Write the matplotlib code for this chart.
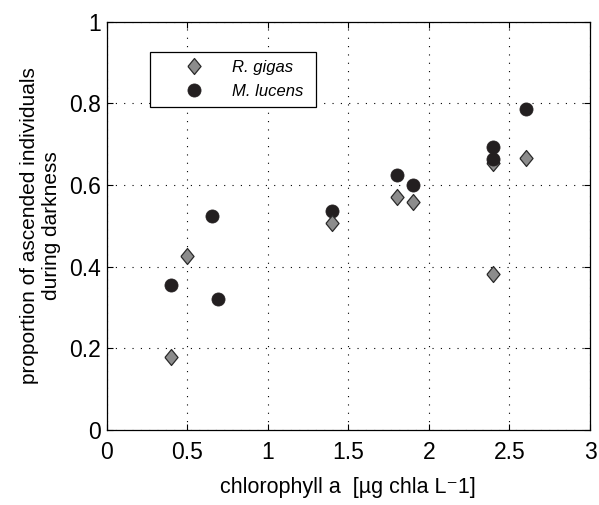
import numpy as np
import matplotlib
matplotlib.use("Agg")
import matplotlib.pyplot as plt

plt.rcParams["font.family"] = ["Liberation Sans", "DejaVu Sans"]

# R. gigas (diamonds)
gigas_x = [0.4, 0.5, 1.4, 1.8, 1.9, 2.4, 2.4, 2.6]
gigas_y = [0.179, 0.426, 0.508, 0.570, 0.559, 0.655, 0.381, 0.667]
gigas_behind = [5]  # this one sits under a circle in the original

# M. lucens (circles)
lucens_x = [0.4, 0.657, 0.689, 1.4, 1.8, 1.9, 2.4, 2.4, 2.6]
lucens_y = [0.355, 0.524, 0.322, 0.537, 0.625, 0.601, 0.694, 0.663, 0.785]

xticks = [0, 0.5, 1, 1.5, 2, 2.5, 3]
xticklabels = ["0", "0.5", "1", "1.5", "2", "2.5", "3"]
yticks = [0, 0.2, 0.4, 0.6, 0.8, 1]
yticklabels = ["0", "0.2", "0.4", "0.6", "0.8", "1"]

fig = plt.figure(figsize=(5.99, 5.05), dpi=100)
ax = fig.add_axes([0.178, 0.1485, 0.807, 0.8085])

gx = np.array(gigas_x)
gy = np.array(gigas_y)
front = np.ones(len(gx), bool)
front[gigas_behind] = False

diamond = [(-0.41, 0), (0, 0.5), (0.41, 0), (0, -0.5), (-0.41, 0)]
dia = dict(marker=diamond, ms=11.5, mfc="#8c8c8c", mec="#2a2a2a", mew=0.9, ls="none")
ax.plot(gx[~front], gy[~front], zorder=2, **dia)
ax.plot(lucens_x, lucens_y, marker="o", ms=9.4, mfc="#231f20", mec="#231f20",
        mew=0.6, ls="none", zorder=3, label="M. lucens ")
ax.plot(gx[front], gy[front], zorder=4, label="R. gigas", **dia)

ax.set_xlim(0, 3)
ax.set_ylim(0, 1)
ax.set_xticks(xticks)
ax.set_xticklabels(xticklabels)
ax.set_yticks(yticks)
ax.set_yticklabels(yticklabels)
ax.tick_params(direction="in", top=True, right=True, labelsize=16.5, length=4,
               width=0.8)
ax.tick_params(axis="x", pad=8)
ax.tick_params(axis="y", pad=4)
ax.grid(True, ls=(0, (1, 6.5)), color="black", lw=0.8)
for s in ax.spines.values():
    s.set_linewidth(0.9)

ax.set_xlabel("chlorophyll a  [\u00b5g chla L\u207b1]", fontsize=15.5, labelpad=9.5)
ax.set_ylabel("proportion of ascended individuals\nduring darkness", fontsize=15,
              labelpad=6)

h, l = ax.get_legend_handles_labels()
leg = ax.legend(h[::-1], l[::-1], loc="upper left", bbox_to_anchor=(0.0896, 0.926),
                prop={"style": "italic", "size": 12}, frameon=True, fancybox=False,
                edgecolor="black", framealpha=1, borderpad=0.5, handletextpad=0.1,
                labelspacing=0.5, borderaxespad=0, handlelength=4.3)
leg.get_frame().set_linewidth(0.9)

fig.savefig("out.png", dpi=100)
